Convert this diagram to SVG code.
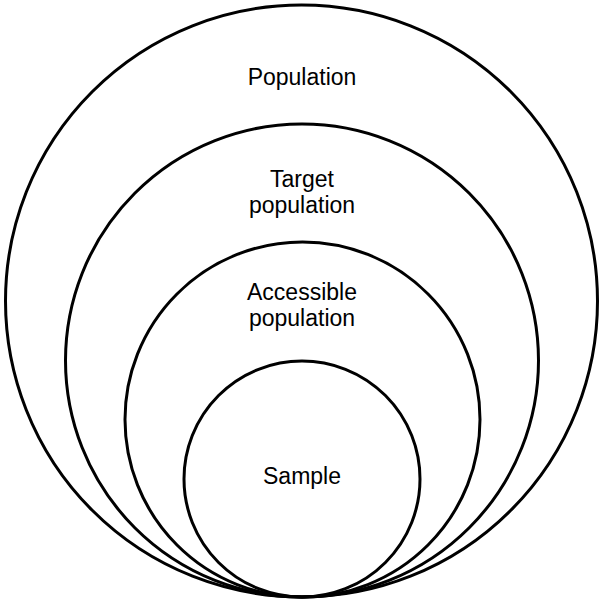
<svg xmlns="http://www.w3.org/2000/svg" width="603" height="604" viewBox="0 0 603 604">
<style>
.c{fill:none;stroke:#000;stroke-width:3}
.t{font-family:"Liberation Sans",Arial,sans-serif;font-size:23px;fill:#000;text-anchor:middle}
</style>
<rect width="603" height="604" fill="#fff"/>
<g id="population">
<circle class="c" cx="301.5" cy="301" r="296"/>
<text class="t" x="302" y="85">Population</text>
</g>
<g id="target-population">
<circle class="c" cx="302" cy="360.5" r="236.5"/>
<text class="t" x="302" y="187">Target</text>
<text class="t" x="302" y="213">population</text>
</g>
<g id="accessible-population">
<circle class="c" cx="302.5" cy="419.5" r="177.5"/>
<text class="t" x="302" y="300">Accessible</text>
<text class="t" x="302" y="326">population</text>
</g>
<g id="sample">
<circle class="c" cx="302" cy="479" r="118"/>
<text class="t" x="302" y="484">Sample</text>
</g>
<g id="connectors"></g>
</svg>
